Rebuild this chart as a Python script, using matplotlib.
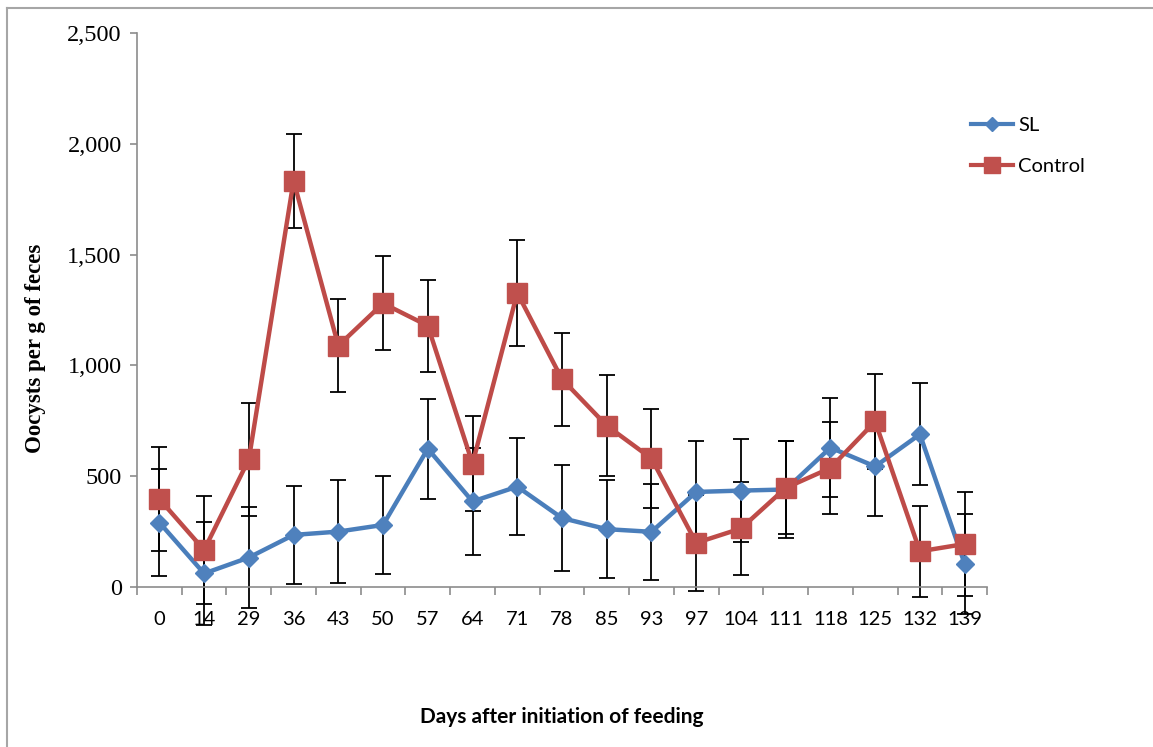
import numpy as np
import matplotlib.pyplot as plt
from matplotlib.lines import Line2D

# data
days = ['0', '14', '29', '36', '43', '50', '57', '64', '71', '78', '85', '93',
        '97', '104', '111', '118', '125', '132', '139']
sl = [291, 61, 133, 235, 250, 280, 624, 386, 453, 311, 261, 249,
      429, 435, 440, 629, 544, 689, 105]
sl_err = [240, 231, 228, 223, 231, 220, 225, 241, 220, 241, 222, 218,
          229, 231, 218, 223, 225, 230, 225]
control = [397, 167, 576, 1833, 1089, 1280, 1179, 557, 1327, 938, 728, 580,
           199, 264, 447, 537, 747, 161, 194]
control_err = [233, 242, 254, 212, 210, 212, 208, 213, 239, 210, 229, 222,
               218, 210, 210, 206, 213, 206, 233]

blue = '#4A7EBB'
red = '#BE4B48'
axis_grey = '#8C8C8C'

fig = plt.figure(figsize=(11.53, 7.47), dpi=100)
ax = fig.add_axes([137/1153, 1 - 587/747, (987 - 137)/1153, (587 - 33)/747])

x = np.arange(len(days))

# error bars (they hang below the axis in the original, so no clipping)
for vals, errs in [(sl, sl_err), (control, control_err)]:
    eb = ax.errorbar(x, vals, yerr=errs, fmt='none', ecolor='black',
                     elinewidth=1.3, capsize=5.5, capthick=1.3, zorder=1.5)
    for a in list(eb.lines[1]) + list(eb.lines[2]):
        a.set_clip_on(False)

ax.plot(x, sl, color=blue, lw=3.2, marker='D', ms=9.5, mfc='#4F81BD',
        mec='#4F81BD', label='SL', zorder=2, clip_on=False)
ax.plot(x, control, color=red, lw=3.2, marker='s', ms=14, mfc='#C0504D',
        mec='#C0504D', label='Control', zorder=3, clip_on=False)

ax.set_xlim(-0.5, len(days) - 0.5)
ax.set_ylim(0, 2500)

# category labels at centres, tick marks at the boundaries
ax.set_xticks(x)
ax.set_xticklabels(days, fontfamily='Lato', fontsize=14.5)
ax.set_xticks(np.arange(len(days) + 1) - 0.5, minor=True)
ax.tick_params(axis='x', which='major', length=0, pad=17)
ax.tick_params(axis='x', which='minor', length=6, width=1.2, color=axis_grey,
               direction='out')

ax.set_yticks(np.arange(0, 2501, 500))
ax.set_yticklabels(['0', '500', '1,000', '1,500', '2,000', '2,500'],
                   fontfamily='Liberation Serif', fontsize=17.5)
ax.tick_params(axis='y', length=5, width=1.2, color=axis_grey, pad=6)

for side in ['top', 'right']:
    ax.spines[side].set_visible(False)
for side in ['left', 'bottom']:
    ax.spines[side].set_color(axis_grey)
    ax.spines[side].set_linewidth(1.2)

fig.text(36/1153, 1 - 348/747, 'Oocysts per g of feces', rotation=90,
         ha='center', va='center', fontfamily='Liberation Serif',
         fontweight='bold', fontsize=16.5)
fig.text(562/1153, 1 - 717/747, 'Days after initiation of feeding',
         ha='center', va='center', fontfamily='Lato', fontweight='bold',
         fontsize=15)

handles = [Line2D([], [], color=blue, lw=3, marker='D', ms=7, mfc='#4F81BD', mec='#4F81BD'),
           Line2D([], [], color=red, lw=3, marker='s', ms=11, mfc='#C0504D', mec='#C0504D')]
fig.legend(handles, ['SL', 'Control'], loc='upper left',
           bbox_to_anchor=(971/1153, 1 - 117/747), frameon=False,
           prop={'family': 'Lato', 'size': 14.5}, handlelength=2.1,
           handletextpad=0.25, labelspacing=1.2, borderpad=0, borderaxespad=0)

# thin grey frame at top and left, as in the source image
fig.add_artist(Line2D([7/1153, 7/1153], [0, 1 - 8/747], color='#A6A6A6', lw=1.5,
                      transform=fig.transFigure))
fig.add_artist(Line2D([7/1153, 1], [1 - 8/747, 1 - 8/747], color='#A6A6A6', lw=1.5,
                      transform=fig.transFigure))

fig.savefig('out.png', dpi=100)
